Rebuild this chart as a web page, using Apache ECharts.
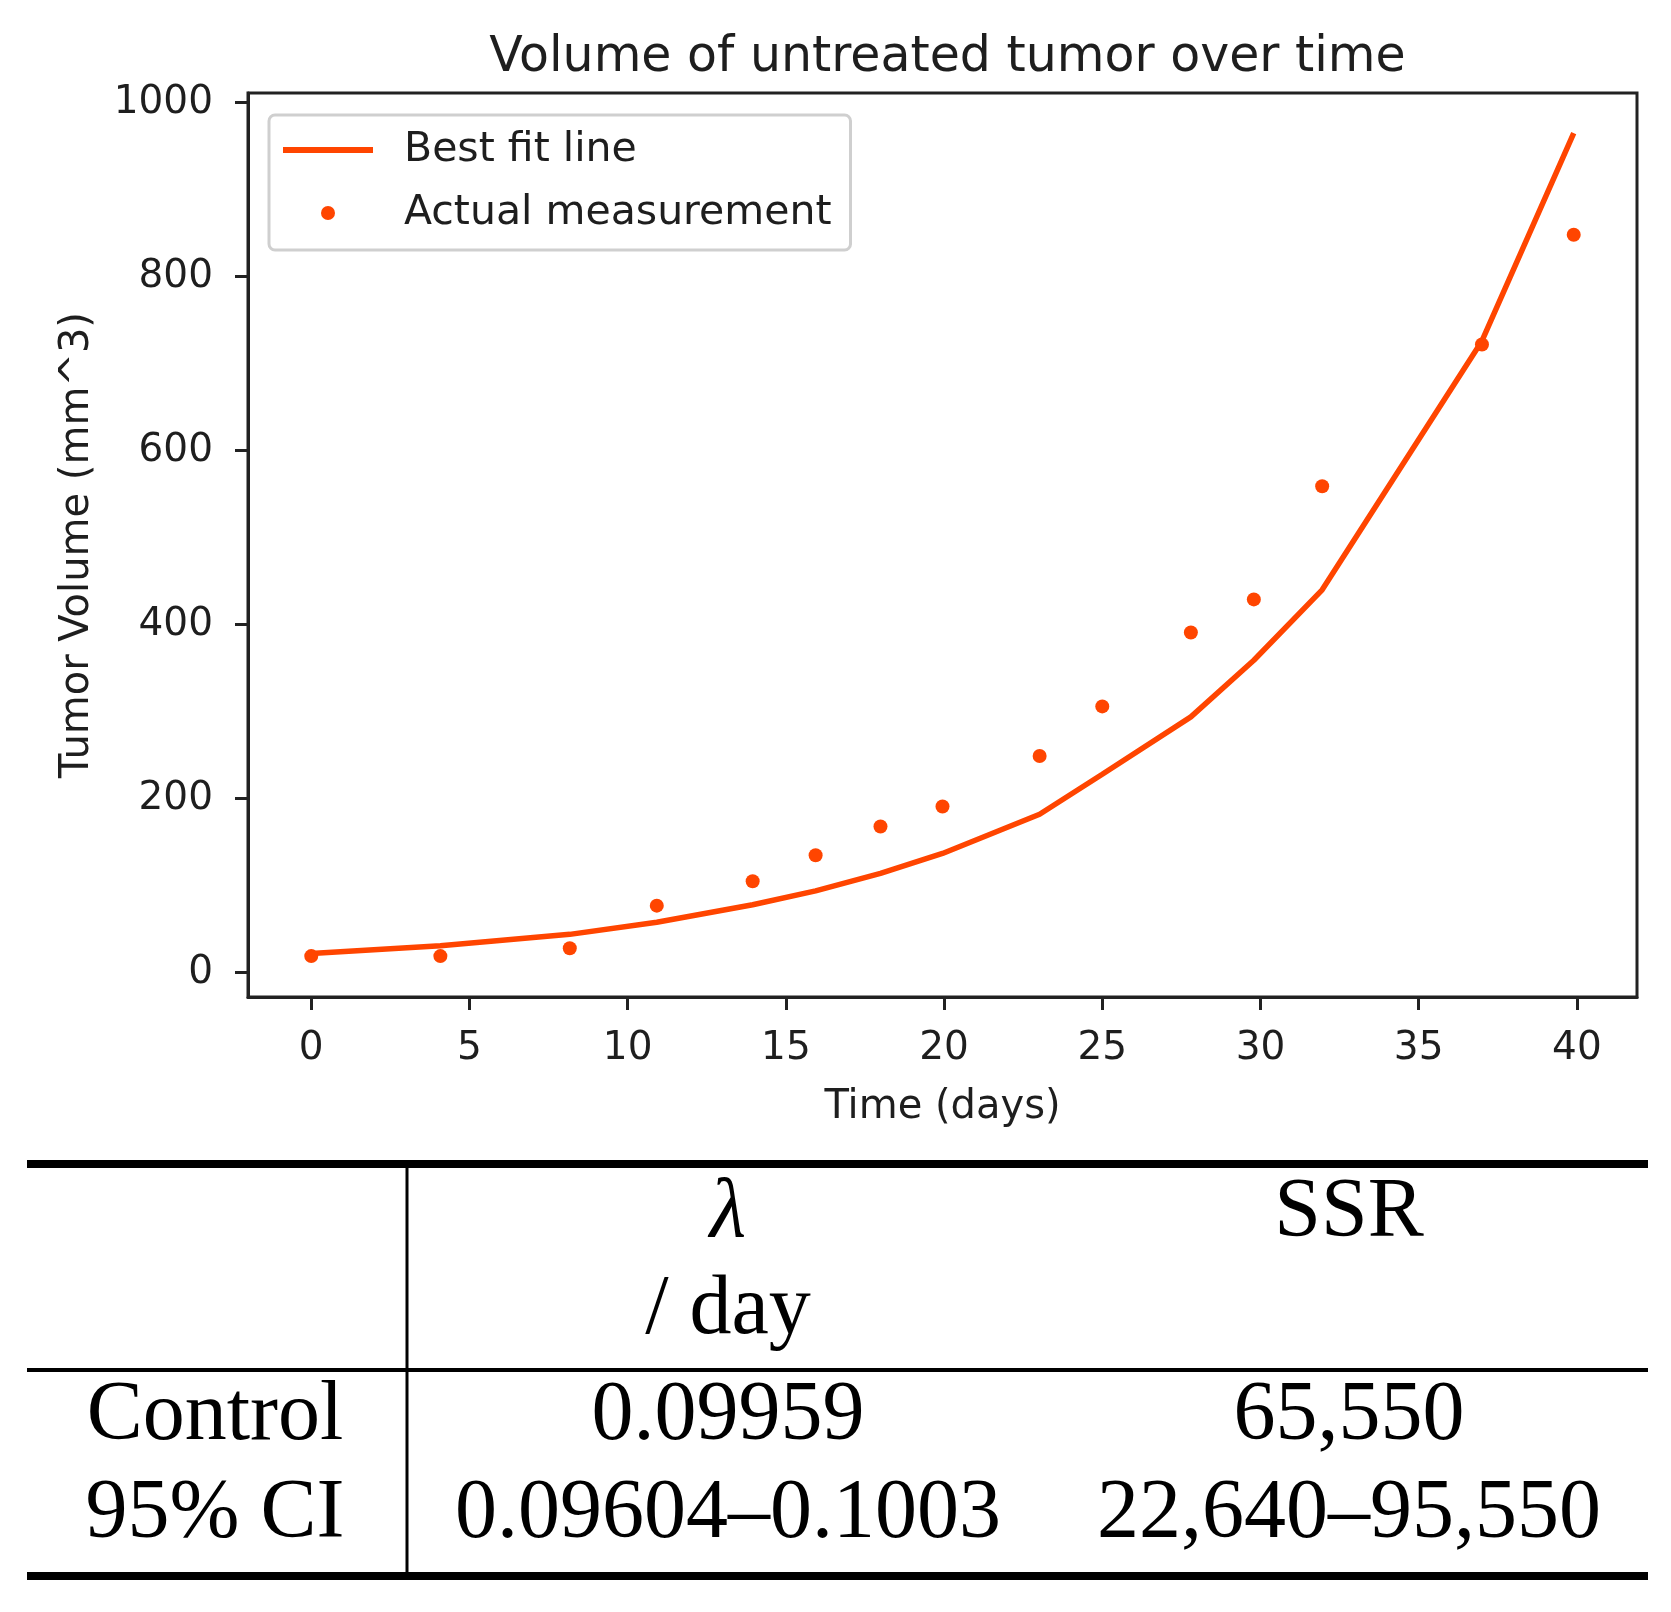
<!DOCTYPE html>
<html>
<head>
<meta charset="utf-8">
<script src="https://cdn.jsdelivr.net/npm/echarts@6/dist/echarts.min.js"></script>
<style>
html,body{margin:0;padding:0;background:#fff;}
#chart{width:1671px;height:1612px;}
</style>
</head>
<body>
<div id="chart"></div>
<script>
// ---- data ----
const measuredDays    = [0, 4.08, 8.17, 10.92, 13.95, 15.94, 17.99, 19.95, 23.02, 25.0, 27.8, 29.79, 31.95, 37.0, 39.9];
const measuredVolumes = [19, 19, 28, 77, 105, 135, 168, 191, 249, 306, 391, 429, 559, 722, 848];
const fitDays         = [0, 4.08, 8.17, 10.92, 13.95, 15.94, 17.99, 19.95, 23.02, 25.0, 27.8, 29.79, 31.95, 37.0, 39.9];
const fitVolumes      = [22, 31, 44, 58, 78, 94, 114, 137, 182, 228, 294, 359, 440, 726, 965];
const xTicks = [0, 5, 10, 15, 20, 25, 30, 35, 40];
const yTicks = [0, 200, 400, 600, 800, 1000];
const seriesNames = ['Best fit line', 'Actual measurement'];
const chartTitle = 'Volume of untreated tumor over time';
const xAxisName = 'Time (days)';
const yAxisName = 'Tumor Volume (mm^3)';
const tableHeaders = ['', 'λ', 'SSR'];
const tableHeaderUnits = ['', '/ day', ''];
const tableRows = [
  ['Control', '0.09959', '65,550'],
  ['95% CI', '0.09604–0.1003', '22,640–95,550']
];

// ---- layout / style ----
const ORANGE = '#ff4500';
const INK = '#1e1e1e';
const SANS = '"DejaVu Sans", sans-serif';
const SERIF = '"Liberation Serif", "DejaVu Serif", serif';
const grid = {left: 248, top: 93, width: 1389, height: 904};

const fitData = fitDays.map((d, i) => [d, fitVolumes[i]]);
const measData = measuredDays.map((d, i) => [d, measuredVolumes[i]]);

// table graphics
const colX = [215, 728, 1349];
const headerY = 1214, unitY = 1311, rowY = [1417, 1515];
const tableFont = '84px ' + SERIF;
const graphics = [];
function hline(y, w) {
  graphics.push({type: 'line', shape: {x1: 27, y1: y, x2: 1648, y2: y}, style: {stroke: '#000', lineWidth: w}});
}
hline(1164, 8);
hline(1370, 4);
hline(1576, 8);
graphics.push({type: 'line', shape: {x1: 407, y1: 1168, x2: 407, y2: 1572}, style: {stroke: '#000', lineWidth: 3}});
tableHeaders.forEach((t, i) => {
  if (!t) return;
  graphics.push({type: 'text', x: colX[i], y: headerY, style: {
    text: t, font: (i === 1 ? 'italic ' : '') + tableFont, fill: '#000', align: 'center', verticalAlign: 'middle'}});
});
tableHeaderUnits.forEach((t, i) => {
  if (!t) return;
  graphics.push({type: 'text', x: colX[i], y: unitY, style: {
    text: t, font: tableFont, fill: '#000', align: 'center', verticalAlign: 'middle'}});
});
tableRows.forEach((row, r) => {
  row.forEach((t, i) => {
    graphics.push({type: 'text', x: colX[i], y: rowY[r], style: {
      text: t, font: tableFont, fill: '#000', align: 'center', verticalAlign: 'middle'}});
  });
});

const axisLineStyle = {color: '#222', width: 3};

const chart = echarts.init(document.getElementById('chart'), null, {renderer: 'canvas'});
chart.setOption({
  animation: false,
  backgroundColor: '#fff',
  title: {
    text: chartTitle,
    left: grid.left + grid.width / 2,
    textAlign: 'center',
    top: 29,
    textStyle: {fontFamily: SANS, fontSize: 49, fontWeight: 'normal', color: INK}
  },
  legend: {
    orient: 'vertical',
    left: 269,
    top: 115,
    padding: [13, 19, 15, 11],
    itemWidth: 90,
    itemHeight: 14,
    itemGap: 19,
    borderColor: '#cfcfcf',
    borderWidth: 3,
    borderRadius: 6,
    backgroundColor: '#fff',
    textStyle: {fontFamily: SANS, fontSize: 41, color: INK, lineHeight: 44, padding: [0, 0, 0, 26]},
    data: [
      {name: seriesNames[0], itemStyle: {opacity: 0, color: 'rgba(0,0,0,0)', borderWidth: 0}, lineStyle: {width: 6, color: ORANGE}},
      {name: seriesNames[1], icon: 'circle'}
    ]
  },
  grid: Object.assign({show: true, borderColor: '#222', borderWidth: 3, backgroundColor: '#fff'}, grid),
  xAxis: {
    type: 'value',
    min: -2,
    max: 41.9,
    name: xAxisName,
    nameLocation: 'middle',
    nameGap: 91,
    nameTextStyle: {fontFamily: SANS, fontSize: 40, color: INK},
    axisLine: {show: true, onZero: false, lineStyle: axisLineStyle},
    axisTick: {show: true, length: 13, customValues: xTicks, lineStyle: axisLineStyle},
    axisLabel: {customValues: xTicks, margin: 32, fontFamily: SANS, fontSize: 39, color: INK,
      formatter: v => String(v)},
    splitLine: {show: false}
  },
  yAxis: {
    type: 'value',
    min: -28,
    max: 1011,
    name: yAxisName,
    nameLocation: 'middle',
    nameGap: 150,
    nameTextStyle: {fontFamily: SANS, fontSize: 40, color: INK},
    axisLine: {show: true, onZero: false, lineStyle: axisLineStyle},
    axisTick: {show: true, length: 13, customValues: yTicks, lineStyle: axisLineStyle},
    axisLabel: {customValues: yTicks, margin: 35, fontFamily: SANS, fontSize: 39, color: INK,
      formatter: v => String(v)},
    splitLine: {show: false}
  },
  series: [
    {
      name: seriesNames[0],
      type: 'line',
      data: fitData,
      symbol: 'none',
      showSymbol: false,
      lineStyle: {color: ORANGE, width: 5.5},
      itemStyle: {color: ORANGE},
      z: 2
    },
    {
      name: seriesNames[1],
      type: 'scatter',
      data: measData,
      symbol: 'circle',
      symbolSize: 14,
      itemStyle: {color: ORANGE, opacity: 1},
      z: 3
    }
  ],
  graphic: graphics
});
</script>
</body>
</html>
